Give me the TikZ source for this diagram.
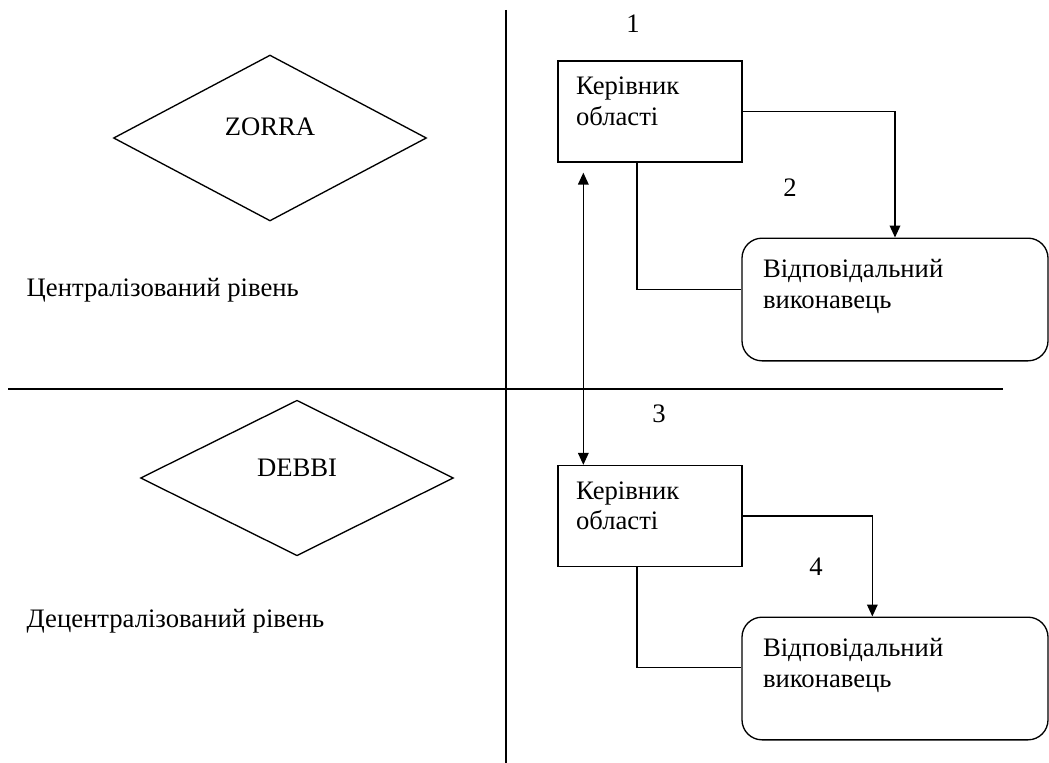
\documentclass[tikz,border=0pt]{standalone}
\usepackage{fontspec}
\setmainfont{Liberation Serif}
\usetikzlibrary{arrows.meta,positioning,shapes.geometric}
\tikzset{
    %Define standard arrow tip
    >={Triangle[length=9pt,width=8pt]},
    %Define style for square boxes
    kvadrat/.style={
           rectangle,
           draw=black,
           minimum width=138pt,
           minimum height=75.75pt,
           text width=111pt,
           inner xsep=13.5pt,
           text height=13.5pt,
           text depth=39pt,
           align=left},
    %Define style for rounded boxes
    okruglyi/.style={
           rectangle,
           rounded corners=15pt,
           draw=black,
           minimum width=229.5pt,
           minimum height=92pt,
           text width=198pt,
           inner xsep=15.75pt,
           text height=13.5pt,
           text depth=46.5pt,
           align=left},
    %Define style for diamonds
    romb/.style={
           diamond,
           draw=black,
           minimum width=234.75pt,
           minimum height=93pt,
           text height=13.5pt,
           text depth=16.5pt},
    % Define level text style
    riven/.style={
           anchor=base west,
           inner sep=0pt},
    % Define arrow style
    pil/.style={
           ->,
           line width=1pt}
}

\begin{document}
\begin{tikzpicture}[x=0.75pt,y=-0.75pt,line width=1pt]
  \fontsize{20}{23}\selectfont
  \useasboundingbox (0,0) rectangle (1049,763);
  % dividing lines
  \coordinate (vtop) at (506,10);
  \coordinate (vbot) at (506,763);
  \coordinate (hleft) at (8,389);
  \coordinate (hright) at (1003,389);
  \draw (vtop) -- (vbot);
  \draw (hleft) -- (hright);
  % left half
  \node[romb] (zorra) at (270,138) {ZORRA};
  \node[riven] (tsentr) at (26,296) {Централізований рівень};
  \node[romb] (debbi) at (297,478) {DEBBI};
  \node[riven] (detsentr) at (26,627) {Децентралізований рівень};
  % right half
  \node[kvadrat] (kerivnyk1) at (650,111.5) {Керівник\\області};
  \node[okruglyi] (vykonavets1) at (895,299.5) {Відповідальний\\виконавець};
  \node[kvadrat] (kerivnyk2) at (650,516) {Керівник\\області};
  \node[okruglyi] (vykonavets2) at (895,678.5) {Відповідальний\\виконавець};
  \node (n1) at (633,24) {1};
  \node (n2) at (790,188) {2};
  \node (n3) at (659,414) {3};
  \node (n4) at (816,567) {4};
  \draw[pil] (kerivnyk1.east) -| (vykonavets1.north);
  \draw ([xshift=-9.75pt]kerivnyk1.south) |- ([yshift=7.5pt]vykonavets1.west);
  \draw[pil] (kerivnyk2.east) -| ([xshift=-17pt]vykonavets2.north);
  \draw ([xshift=-9.75pt]kerivnyk2.south) |- ([yshift=8.5pt]vykonavets2.west);
  \draw[pil,<->,shorten <=7.5pt] ([xshift=19.5pt]kerivnyk1.south west) -- ([xshift=19.5pt]kerivnyk2.north west);
\end{tikzpicture}
\end{document}
